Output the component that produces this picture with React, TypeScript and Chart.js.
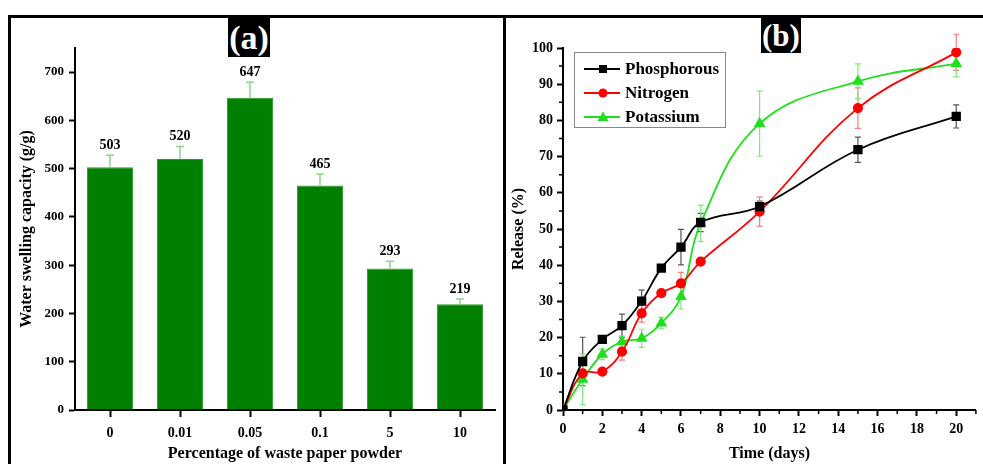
import React, { useEffect, useRef } from "react";
import { Chart, registerables } from "chart.js";
Chart.register(...registerables);

// ---- Panel (a) data ----
const categories = ["0", "0.01", "0.05", "0.1", "5", "10"];
const swelling = [503, 520, 647, 465, 293, 219];
const swellingErr = [25, 26, 32, 24, 15, 11];

// ---- Panel (b) data ----
const days = [0, 1, 2, 3, 4, 5, 6, 7, 10, 15, 20];
const phosphorous = [0, 13.4, 19.5, 23.3, 30.1, 39.2, 45, 51.8, 56.2, 71.9, 81.1];
const phosphorousErr = [0, 6.7, 0, 3.2, 3, 0, 4.9, 2.5, 1.5, 3.5, 3.2];
const nitrogen = [0, 10.1, 10.6, 16.1, 26.7, 32.3, 35, 41, 54.8, 83.4, 98.8];
const nitrogenErr = [0, 0, 0, 2.3, 2.4, 0, 3, 0, 4, 5.6, 5];
const potassium = [0, 8.5, 15.4, 18.9, 19.8, 24, 31.3, 51.6, 79.1, 90.8, 95.7];
const potassiumErr = [0, 7, 1.5, 1.5, 2.5, 1.6, 3.4, 5, 9, 4.8, 3.7];
const dayTicks = [0, 2, 4, 6, 8, 10, 12, 14, 16, 18, 20];

const FONT = "'Liberation Serif', 'Times New Roman', serif";

const barErrPlugin = {
  id: "barErr",
  afterDatasetsDraw(chart: any) {
    const ctx = chart.ctx;
    const meta = chart.getDatasetMeta(0);
    const ys = chart.scales.y;
    ctx.save();
    meta.data.forEach((bar: any, i: number) => {
      const x = bar.x;
      const yv = ys.getPixelForValue(swelling[i]);
      const yt = ys.getPixelForValue(swelling[i] + swellingErr[i]);
      ctx.strokeStyle = "#8fd48f";
      ctx.lineWidth = 1.5;
      ctx.beginPath();
      ctx.moveTo(x, yv);
      ctx.lineTo(x, yt);
      ctx.moveTo(x - 4, yt);
      ctx.lineTo(x + 4, yt);
      ctx.stroke();
      ctx.fillStyle = "#000";
      ctx.font = `bold 14px ${FONT}`;
      ctx.textAlign = "center";
      ctx.textBaseline = "bottom";
      ctx.fillText(String(swelling[i]), x, yt - 3);
    });
    ctx.restore();
  },
};

const errColors = ["#555555", "#ff7a7a", "#7fe87f"];
const errArrays = [phosphorousErr, nitrogenErr, potassiumErr];
const valArrays = [phosphorous, nitrogen, potassium];

const lineErrPlugin = {
  id: "lineErr",
  beforeDatasetsDraw(chart: any) {
    const ctx = chart.ctx;
    const xs = chart.scales.x;
    const ys = chart.scales.y;
    ctx.save();
    valArrays.forEach((vals, d) => {
      ctx.strokeStyle = errColors[d];
      ctx.lineWidth = 1.2;
      vals.forEach((v, i) => {
        const e = errArrays[d][i];
        if (!e) return;
        const x = xs.getPixelForValue(days[i]);
        const y1 = ys.getPixelForValue(v + e);
        const y2 = ys.getPixelForValue(v - e);
        ctx.beginPath();
        ctx.moveTo(x, y1);
        ctx.lineTo(x, y2);
        ctx.moveTo(x - 3, y1);
        ctx.lineTo(x + 3, y1);
        ctx.moveTo(x - 3, y2);
        ctx.lineTo(x + 3, y2);
        ctx.stroke();
      });
    });
    ctx.restore();
  },
  afterDraw(chart: any) {
    // minor ticks
    const ctx = chart.ctx;
    const xs = chart.scales.x;
    const ys = chart.scales.y;
    const area = chart.chartArea;
    ctx.save();
    ctx.strokeStyle = "#000";
    ctx.lineWidth = 1.5;
    ctx.beginPath();
    for (let v = 1; v <= 21; v += 2) {
      const x = xs.getPixelForValue(v);
      ctx.moveTo(x, area.bottom);
      ctx.lineTo(x, area.bottom + 4);
    }
    for (let v = 5; v < 100; v += 10) {
      const y = ys.getPixelForValue(v);
      ctx.moveTo(area.left, y);
      ctx.lineTo(area.left - 4, y);
    }
    ctx.stroke();
    ctx.restore();
  },
};

const legendPlugin = {
  id: "boxLegend",
  afterDraw(chart: any) {
    const ctx = chart.ctx;
    const area = chart.chartArea;
    const bx = area.left + 11;
    const by = area.top + 4;
    ctx.save();
    ctx.strokeStyle = "#888";
    ctx.lineWidth = 1;
    ctx.strokeRect(bx + 0.5, by + 0.5, 151, 75);
    chart.data.datasets.forEach((ds: any, i: number) => {
      const cy = by + 17 + i * 24;
      ctx.strokeStyle = ds.borderColor;
      ctx.lineWidth = 2;
      ctx.beginPath();
      ctx.moveTo(bx + 10, cy);
      ctx.lineTo(bx + 46, cy);
      ctx.stroke();
      ctx.fillStyle = ds.backgroundColor;
      const mx = bx + 29;
      ctx.beginPath();
      if (ds.pointStyle === "rect") {
        ctx.rect(mx - 4, cy - 4, 8, 8);
      } else if (ds.pointStyle === "circle") {
        ctx.arc(mx, cy, 4.5, 0, Math.PI * 2);
      } else {
        ctx.moveTo(mx, cy - 5.5);
        ctx.lineTo(mx + 5.5, cy + 4);
        ctx.lineTo(mx - 5.5, cy + 4);
        ctx.closePath();
      }
      ctx.fill();
      ctx.fillStyle = "#000";
      ctx.font = `bold 17px ${FONT}`;
      ctx.textAlign = "left";
      ctx.textBaseline = "middle";
      ctx.fillText(ds.label, bx + 51, cy + 1);
    });
    ctx.restore();
  },
};

function BarPanel() {
  const ref = useRef<HTMLCanvasElement>(null);
  useEffect(() => {
    const chart = new Chart(ref.current!, {
      type: "bar",
      data: {
        labels: categories,
        datasets: [
          {
            label: "Water swelling capacity",
            data: swelling,
            backgroundColor: "#008000",
            borderColor: "#2a9a2a",
            borderWidth: 1,
            barPercentage: 0.66,
            categoryPercentage: 1,
          },
        ],
      },
      options: {
        animation: false,
        responsive: false,
        maintainAspectRatio: false,
        layout: { padding: { top: 30, right: 8, left: 0, bottom: 0 } },
        plugins: { legend: { display: false }, tooltip: { enabled: false } },
        scales: {
          x: {
            offset: true,
            grid: { offset: false, drawOnChartArea: false, tickLength: 7, tickWidth: 2, tickColor: "#000" },
            border: { color: "#000", width: 2 },
            ticks: { color: "#000", font: { family: FONT, size: 14, weight: "bold" }, padding: 8, maxRotation: 0 },
            title: {
              display: true,
              text: "Percentage of waste paper powder",
              color: "#000",
              font: { family: FONT, size: 16, weight: "bold" },
              padding: { bottom: 1, top: 0 },
            },
            afterFit(scale: any) {
              scale.height = 54;
            },
          },
          y: {
            min: 0,
            max: 750,
            grid: { drawOnChartArea: false, tickLength: 6, tickWidth: 2, tickColor: "#000" },
            border: { color: "#000", width: 2 },
            afterBuildTicks(scale: any) {
              scale.ticks = scale.ticks.filter((t: any) => t.value % 100 === 0);
            },
            ticks: { stepSize: 100, color: "#000", font: { family: FONT, size: 13, weight: "bold" }, padding: 5 },
            title: {
              display: true,
              text: "Water swelling capacity (g/g)",
              color: "#000",
              font: { family: FONT, size: 16, weight: "bold" },
              padding: { top: 6, bottom: 0 },
            },
            afterFit(scale: any) {
              scale.width = 64;
            },
          },
        },
      },
      plugins: [barErrPlugin],
    } as any);
    return () => chart.destroy();
  }, []);
  return <canvas ref={ref} width={492} height={446} style={{ position: "absolute", left: 11, top: 18, width: 492, height: 446 }} />;
}

function LinePanel() {
  const ref = useRef<HTMLCanvasElement>(null);
  useEffect(() => {
    const mk = (vals: number[]) => vals.map((v, i) => ({ x: days[i], y: v }));
    const chart = new Chart(ref.current!, {
      type: "line",
      data: {
        datasets: [
          {
            label: "Phosphorous",
            data: mk(phosphorous),
            borderColor: "#000000",
            backgroundColor: "#000000",
            pointStyle: "rect",
            pointRadius: 5.3,
            borderWidth: 1.8,
            tension: 0.4,
          },
          {
            label: "Nitrogen",
            data: mk(nitrogen),
            borderColor: "#ff0000",
            backgroundColor: "#ff0000",
            pointStyle: "circle",
            pointRadius: 4.2,
            borderWidth: 1.8,
            tension: 0.4,
          },
          {
            label: "Potassium",
            data: mk(potassium),
            borderColor: "#1fe01f",
            backgroundColor: "#1fe01f",
            pointStyle: "triangle",
            pointRadius: 5,
            borderWidth: 1.8,
            tension: 0.4,
          },
        ],
      },
      options: {
        animation: false,
        responsive: false,
        maintainAspectRatio: false,
        layout: { padding: { top: 30, right: 3, left: 0, bottom: 0 } },
        plugins: { legend: { display: false }, tooltip: { enabled: false } },
        scales: {
          x: {
            type: "linear",
            min: 0,
            max: 21,
            grid: { drawOnChartArea: false, tickLength: 6, tickWidth: 2, tickColor: "#000" },
            border: { color: "#000", width: 2 },
            afterBuildTicks(scale: any) {
              scale.ticks = dayTicks.map((v) => ({ value: v }));
            },
            ticks: {
              color: "#000",
              font: { family: FONT, size: 14, weight: "bold" },
              padding: 5,
              maxRotation: 0,
              autoSkip: false,
            },
            title: {
              display: true,
              text: "Time (days)",
              color: "#000",
              font: { family: FONT, size: 16, weight: "bold" },
              padding: { bottom: 1, top: 0 },
            },
            afterFit(scale: any) {
              scale.height = 54;
            },
          },
          y: {
            min: 0,
            max: 100,
            grid: { drawOnChartArea: false, tickLength: 6, tickWidth: 2, tickColor: "#000" },
            border: { color: "#000", width: 2 },
            ticks: { stepSize: 10, color: "#000", font: { family: FONT, size: 14, weight: "bold" }, padding: 4 },
            title: {
              display: true,
              text: "Release (%)",
              color: "#000",
              font: { family: FONT, size: 16, weight: "bold" },
              padding: { top: 3, bottom: 0 },
            },
            afterFit(scale: any) {
              scale.width = 57;
            },
          },
        },
      },
      plugins: [lineErrPlugin, legendPlugin],
    } as any);
    return () => chart.destroy();
  }, []);
  return <canvas ref={ref} width={477} height={446} style={{ position: "absolute", left: 506, top: 18, width: 477, height: 446 }} />;
}

const tagStyle: React.CSSProperties = {
  position: "absolute",
  background: "#000",
  color: "#fff",
  fontFamily: FONT,
  fontWeight: "bold",
  display: "flex",
  alignItems: "center",
  justifyContent: "center",
};

export default function App() {
  return (
    <div style={{ position: "absolute", left: 0, top: 0, width: 983, height: 464, overflow: "hidden", background: "#fff" }}>
      <div style={{ position: "absolute", left: 8, top: 15, width: 1000, height: 500, borderLeft: "3px solid #000", borderTop: "3px solid #000" }} />
      <div style={{ position: "absolute", left: 503, top: 15, width: 3, height: 460, background: "#000" }} />
      <BarPanel />
      <LinePanel />
      <div style={{ ...tagStyle, left: 228, top: 18, width: 42, height: 39, fontSize: 34, lineHeight: "39px" }}>(a)</div>
      <div style={{ ...tagStyle, left: 761, top: 18, width: 40, height: 35, fontSize: 31, lineHeight: "35px" }}>(b)</div>
    </div>
  );
}
